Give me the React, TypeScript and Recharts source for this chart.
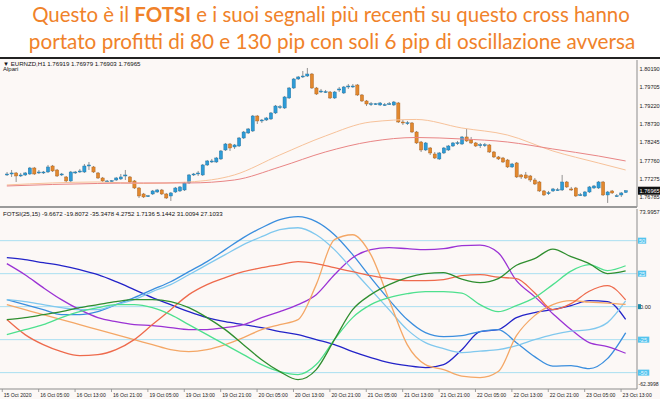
import { ComposedChart, Bar, Line, XAxis, YAxis, ReferenceLine } from "recharts";

const ORANGE = "#F0822A";
const BULL = "#2E9BD6";
const BEAR = "#E2882E";
const AXIS = "#8c8c8c";
const BG = "#FCF8F6";
const FONT = "Liberation Sans, Arial, sans-serif";

// EURNZD H1 candles, 15 Oct 22:00 -> 23 Oct 14:00
const open = [
  1.77382, 1.77408, 1.77435, 1.77355, 1.77382, 1.77408, 1.77567, 1.77435, 1.77435, 1.77461,
  1.7762, 1.77514, 1.77382, 1.77329, 1.77223, 1.77435, 1.77461, 1.77461, 1.7762, 1.77594,
  1.77435, 1.77302, 1.77223, 1.77223, 1.77249, 1.77276, 1.77355, 1.77329, 1.77223, 1.77037,
  1.76878, 1.76825, 1.76878, 1.76931, 1.76984, 1.76878, 1.76825, 1.76931, 1.76958, 1.76984,
  1.7717, 1.77382, 1.77408, 1.77382, 1.77647, 1.77726, 1.77726, 1.77806, 1.78044, 1.78203,
  1.78124, 1.7815, 1.78362, 1.78495, 1.78548, 1.78945, 1.78813, 1.78839, 1.78866, 1.79025,
  1.79184, 1.79157, 1.79422, 1.79687, 1.79926, 1.79979, 1.80005, 1.80058, 1.79687, 1.79581,
  1.79581, 1.79581, 1.79422, 1.79634, 1.79555, 1.79714, 1.79714, 1.79767, 1.79502, 1.79343,
  1.79263, 1.79263, 1.79237, 1.79237, 1.79263, 1.79237, 1.7929, 1.78786, 1.7876, 1.7876,
  1.78521, 1.78256, 1.78044, 1.78097, 1.77938, 1.77806, 1.77965, 1.78044, 1.7815, 1.7823,
  1.78203, 1.78389, 1.78309, 1.7823, 1.78177, 1.78177, 1.78177, 1.77991, 1.77859, 1.77832,
  1.77779, 1.77594, 1.777, 1.77382, 1.77382, 1.77355, 1.77249, 1.77196, 1.76958, 1.76905,
  1.76958, 1.76984, 1.76984, 1.77196, 1.77011, 1.77037, 1.76852, 1.76825, 1.76931, 1.77037,
  1.77037, 1.77196, 1.76852, 1.76958, 1.76825, 1.76852, 1.76919,
];
const high = [
  1.77461, 1.77514, 1.77461, 1.77435, 1.77461, 1.77594, 1.77594, 1.77514, 1.77488, 1.77647,
  1.77647, 1.77541, 1.77435, 1.77355, 1.77488, 1.77488, 1.77541, 1.77673, 1.77726, 1.7762,
  1.77461, 1.77329, 1.77249, 1.77249, 1.77329, 1.77408, 1.77514, 1.77355, 1.77249, 1.77064,
  1.76905, 1.76852, 1.76984, 1.77011, 1.77011, 1.76905, 1.76931, 1.77064, 1.7709, 1.77196,
  1.77408, 1.77435, 1.77488, 1.77673, 1.77779, 1.77806, 1.77859, 1.78044, 1.7823, 1.7823,
  1.78203, 1.78389, 1.78548, 1.78627, 1.78972, 1.78972, 1.78866, 1.78919, 1.79051, 1.79237,
  1.79237, 1.79475, 1.79714, 1.79952, 1.80005, 1.80138, 1.80217, 1.80085, 1.79714, 1.79661,
  1.79634, 1.79608, 1.79608, 1.79714, 1.7974, 1.79793, 1.79793, 1.79793, 1.79528, 1.79369,
  1.79316, 1.7929, 1.79316, 1.7929, 1.79316, 1.79343, 1.79316, 1.78839, 1.78813, 1.78786,
  1.78548, 1.78283, 1.78256, 1.78124, 1.77991, 1.77991, 1.78124, 1.78177, 1.78256, 1.78283,
  1.78415, 1.78601, 1.78389, 1.78256, 1.7823, 1.7823, 1.78203, 1.78018, 1.77885, 1.77859,
  1.77806, 1.777, 1.77726, 1.77408, 1.77461, 1.77382, 1.77302, 1.77223, 1.76984, 1.76958,
  1.77037, 1.77037, 1.77382, 1.77223, 1.77064, 1.77064, 1.76905, 1.76958, 1.7709, 1.77117,
  1.77223, 1.77223, 1.76958, 1.76984, 1.76878, 1.76931, 1.76979,
];
const low = [
  1.77355, 1.77329, 1.77196, 1.77329, 1.77355, 1.77382, 1.77382, 1.77408, 1.77408, 1.77435,
  1.77461, 1.77329, 1.77355, 1.7717, 1.77196, 1.77408, 1.77435, 1.77435, 1.77514, 1.77435,
  1.77276, 1.77196, 1.77196, 1.77196, 1.77223, 1.77249, 1.77249, 1.7717, 1.77011, 1.76772,
  1.76772, 1.76799, 1.76852, 1.76905, 1.76852, 1.76746, 1.76693, 1.76905, 1.76931, 1.76958,
  1.77143, 1.77355, 1.77355, 1.77355, 1.7762, 1.777, 1.777, 1.77779, 1.78018, 1.78018,
  1.78071, 1.78124, 1.78336, 1.78468, 1.78521, 1.78733, 1.7876, 1.78813, 1.78839, 1.78998,
  1.79131, 1.79131, 1.79396, 1.79661, 1.79899, 1.79952, 1.79979, 1.79661, 1.79502, 1.79555,
  1.79555, 1.79396, 1.79396, 1.79581, 1.79528, 1.79661, 1.79687, 1.79475, 1.79316, 1.7921,
  1.7921, 1.79237, 1.7921, 1.7921, 1.79237, 1.7921, 1.7876, 1.78707, 1.78707, 1.78495,
  1.78203, 1.77991, 1.78018, 1.77912, 1.77806, 1.77779, 1.77938, 1.78018, 1.78124, 1.78177,
  1.78177, 1.78256, 1.78203, 1.78124, 1.78097, 1.78124, 1.77965, 1.77832, 1.77779, 1.777,
  1.77567, 1.77567, 1.77302, 1.77276, 1.77276, 1.77196, 1.77117, 1.76931, 1.76825, 1.76852,
  1.76931, 1.76958, 1.76958, 1.77037, 1.76958, 1.76799, 1.76825, 1.76799, 1.76905, 1.77011,
  1.77011, 1.76825, 1.7664, 1.76878, 1.76799, 1.76799, 1.76903,
];
const close = [
  1.77408, 1.77435, 1.77355, 1.77382, 1.77435, 1.77567, 1.77408, 1.77461, 1.77461, 1.77594,
  1.77488, 1.77355, 1.77408, 1.77223, 1.77461, 1.77461, 1.77488, 1.7762, 1.77647, 1.77461,
  1.77302, 1.77223, 1.77223, 1.7723, 1.77302, 1.77329, 1.77382, 1.77196, 1.77037, 1.76825,
  1.76799, 1.7683, 1.76958, 1.76984, 1.76878, 1.76772, 1.76905, 1.77037, 1.77064, 1.7717,
  1.77382, 1.77408, 1.77435, 1.77647, 1.77753, 1.77753, 1.77832, 1.78018, 1.78203, 1.78097,
  1.78177, 1.78362, 1.78521, 1.78601, 1.78945, 1.78813, 1.78839, 1.78892, 1.79025, 1.7921,
  1.7919, 1.79449, 1.79687, 1.79926, 1.79979, 1.80005, 1.80058, 1.79687, 1.79528, 1.79608,
  1.7959, 1.79422, 1.79581, 1.79661, 1.79714, 1.7974, 1.7974, 1.79502, 1.79343, 1.79263,
  1.7927, 1.7927, 1.7929, 1.79245, 1.7927, 1.79316, 1.78786, 1.7876, 1.78765, 1.78521,
  1.7823, 1.78044, 1.7823, 1.77965, 1.77832, 1.77965, 1.78097, 1.7815, 1.7823, 1.78235,
  1.78389, 1.78283, 1.7823, 1.7815, 1.78182, 1.78182, 1.77991, 1.77859, 1.77806, 1.77726,
  1.77594, 1.77673, 1.77329, 1.77329, 1.77302, 1.77249, 1.77143, 1.76958, 1.76852, 1.7691,
  1.77011, 1.7699, 1.77196, 1.77064, 1.76984, 1.76825, 1.76857, 1.76931, 1.77064, 1.7709,
  1.77196, 1.76852, 1.76931, 1.76905, 1.7683, 1.76905, 1.76965,
];

// moving averages on the price panel, read at these bar indices
const maIdx = [0, 10, 20, 30, 40, 50, 60, 70, 80, 90, 100, 110, 120, 130, 136];
const maFast = [1.77117, 1.7717, 1.77196, 1.77157, 1.77196, 1.77382, 1.77912, 1.78415, 1.78786, 1.78853, 1.78627, 1.78442, 1.78018, 1.777, 1.77514];
const maSlow = [1.7709, 1.7713, 1.77157, 1.7717, 1.7717, 1.77249, 1.77594, 1.77991, 1.78269, 1.78375, 1.78336, 1.78256, 1.78071, 1.77885, 1.77753];

const priceTicks = [1.8019, 1.79705, 1.7922, 1.7873, 1.78245, 1.7776, 1.77275, 1.76785];

// FOTSI(25,15), read every 4 bars
const fotsiIdx = [0, 4, 8, 12, 16, 20, 24, 28, 32, 36, 40, 44, 48, 52, 56, 60, 64, 68, 72, 76, 80, 84, 88, 92, 96, 100, 104, 108, 112, 116, 120, 124, 128, 132, 136];
const eur = [37.1, 35.6, 33.3, 31.1, 28.0, 24.2, 18.9, 12.9, 6.8, 1.5, -3.8, -8.3, -11.4, -13.6, -15.9, -18.9, -21.2, -25, -28.8, -34.1, -38.6, -42.4, -44.7, -46.2, -43.9, -32.6, -18.9, -17.4, -8.3, -4.5, -2.3, 0.8, 4.5, 3.8, -9.7];
const usd = [5.3, 1.5, -2.3, -6.1, -6.1, -3.8, 1.5, 6.8, 12.9, 18.9, 26.5, 34.1, 43.2, 52.3, 59.8, 65.9, 68.2, 64.4, 54.5, 39.4, 22.0, 5.3, -9.8, -19.7, -22.7, -22.0, -18.9, -17.4, -27.3, -37.9, -45.1, -44.7, -47.0, -39.4, -19.8];
const gbp = [32.6, 24.2, 14.4, 5.3, -2.3, -8.3, -11.4, -13.6, -14.4, -15.9, -17.4, -17.4, -15.9, -13.6, -8.3, -3.8, 1.5, 9.1, 24.2, 37.1, 43.2, 44.7, 43.9, 43.2, 43.9, 46.2, 46.6, 40.9, 19.7, 7.6, -5.3, -17.4, -27.3, -30.3, -35.3];
const chf = [5.3, 3.8, 1.5, -0.8, -2.3, -2.3, 1.5, 5.3, 11.4, 16.7, 24.2, 31.8, 39.4, 47.0, 53.0, 58.3, 59.8, 54.5, 43.2, 28.0, 12.9, -2.3, -17.4, -27.3, -31.8, -34.8, -33.7, -32.6, -29.5, -25.0, -21.2, -18.6, -17.4, -12.1, 4.3];
const jpy = [1.5, -2.3, -6.1, -9.8, -13.6, -17.4, -21.2, -25, -28.8, -32.6, -34.1, -32.6, -28.8, -23.5, -17.4, -13.6, -9.8, 16.7, 50.8, 54.5, 39.4, 5.3, -28.8, -43.9, -47.7, -52.7, -53.8, -49.2, -22.0, -6.8, 1.5, 4.5, 3.4, 2.7, 1.7];
const aud = [-9.8, -21.2, -28.8, -34.1, -37.1, -36.4, -32.6, -25, -13.6, -2.3, 9.1, 16.7, 22.0, 26.5, 29.5, 31.8, 34.1, 32.6, 29.5, 26.5, 23.5, 21.2, 19.7, 19.7, 20.5, 23.5, 24.2, 22.3, 21.2, 10.6, -2.3, 2.3, 11.7, 15.9, 5.1];
const cad = [-21.2, -17.4, -13.6, -8.3, -3.8, -0.8, 1.5, 1.5, -0.8, -6.1, -13.6, -21.2, -28.8, -36.4, -43.9, -49.2, -51.5, -43.9, -25, -8.3, 1.5, 6.8, 9.8, 11.4, 11.4, 10.2, 1.5, -3.8, 0.8, 6.8, 16.7, 26.9, 31.8, 27.3, 31.0];
const nzd = [-9.8, -8.3, -6.1, -3.8, -0.8, 1.5, 3.8, 5.3, 5.3, 3.8, -0.8, -8.3, -17.4, -28.8, -40.2, -49.2, -55.3, -47.7, -25, -2.3, 9.1, 16.7, 22.0, 25.0, 25.8, 20.8, 18.2, 21.2, 31.4, 36.4, 43.6, 37.9, 32.6, 25.0, 27.1];

const levels = [50, 25, 0, -25, -50];
const FOTSI_MAX = 73.9957;
const FOTSI_MIN = -62.3998;

const timeTicks = [-1, 7, 15, 23, 31, 39, 47, 55, 63, 71, 79, 87, 95, 103, 111, 119, 127, 135];
const timeLabels = [
  "15 Oct 2020", "16 Oct 05:00", "16 Oct 13:00", "16 Oct 21:00", "19 Oct 05:00", "19 Oct 13:00",
  "19 Oct 21:00", "20 Oct 05:00", "20 Oct 13:00", "20 Oct 21:00", "21 Oct 05:00", "21 Oct 13:00",
  "21 Oct 21:00", "22 Oct 05:00", "22 Oct 13:00", "22 Oct 21:00", "23 Oct 05:00", "23 Oct 13:00",
];

const series = [
  { key: "eur", values: eur, color: "#2323C8" },
  { key: "usd", values: usd, color: "#3A8EDE" },
  { key: "gbp", values: gbp, color: "#9B32D4" },
  { key: "chf", values: chf, color: "#80C8EE" },
  { key: "jpy", values: jpy, color: "#F4A766" },
  { key: "aud", values: aud, color: "#EE6A4C" },
  { key: "cad", values: cad, color: "#4EE08E" },
  { key: "nzd", values: nzd, color: "#2F8E2F" },
];

const candles = open.map((o, i) => ({ i, open: o, high: high[i], low: low[i], close: close[i] }));
const fastRows = maIdx.map((i, k) => ({ i, v: maFast[k] }));
const slowRows = maIdx.map((i, k) => ({ i, v: maSlow[k] }));
const fotsiRows = fotsiIdx.map((i, k) => {
  const row: Record<string, number> = { i };
  series.forEach((s) => (row[s.key] = s.values[k]));
  return row;
});

const lastClose = close[close.length - 1];
const PRICE_MIN = 1.76533;
const PRICE_MAX = 1.80429;
const X_DOMAIN = [-1.5, 138.5];

function Candle(props: any) {
  const { x, y, width, height, payload } = props;
  if (x == null || !payload) return null;
  const top = Math.min(y, y + height);
  const h = Math.abs(height);
  const range = payload.high - payload.low || 1;
  const py = (v: number) => top + ((payload.high - v) / range) * h;
  const cx = x + width / 2;
  const up = payload.close >= payload.open;
  const bt = py(Math.max(payload.open, payload.close));
  const bb = py(Math.min(payload.open, payload.close));
  return (
    <g>
      <line x1={cx} x2={cx} y1={top} y2={top + h} stroke="#777" strokeWidth={0.8} />
      <rect
        x={cx - 1.6}
        y={bt}
        width={3.2}
        height={Math.max(bb - bt, 0.9)}
        fill={up ? BULL : BEAR}
        stroke={up ? "#1f6f9c" : "#a55e1c"}
        strokeWidth={0.4}
      />
    </g>
  );
}

function PriceTick(props: any) {
  const { y, payload } = props;
  if (payload.value === lastClose) {
    return (
      <g>
        <rect x={638} y={y - 4} width={22} height={8} fill="#111" />
        <text x={639.5} y={y + 2} fontSize={5.6} fontFamily={FONT} fill="#fff">
          {payload.value.toFixed(5)}
        </text>
      </g>
    );
  }
  return (
    <text x={639.5} y={y + 2} fontSize={5.6} fontFamily={FONT} fill="#222">
      {payload.value.toFixed(5)}
    </text>
  );
}

function FotsiTick(props: any) {
  const { y, payload } = props;
  const v = payload.value;
  if (v === FOTSI_MAX) {
    return (
      <text x={639.5} y={y + 5} fontSize={5.6} fontFamily={FONT} fill="#222">
        {v.toFixed(4)}
      </text>
    );
  }
  if (v === FOTSI_MIN) {
    return (
      <text x={638.5} y={y - 3} fontSize={5.1} fontFamily={FONT} fill="#222">
        {v.toFixed(4)}
      </text>
    );
  }
  if (v === 0) {
    return (
      <g>
        <text x={640} y={y + 2} fontSize={5.6} fontFamily={FONT} fill="#222">
          0.00
        </text>
        <rect x={638} y={y - 2.5} width={3} height={5} fill="#1c8aa8" />
      </g>
    );
  }
  const label = String(v);
  const w = label.length * 3.1 + 2;
  return (
    <g>
      <rect x={638} y={y - 3} width={w} height={6} fill="#54C4EE" />
      <text x={639} y={y + 2} fontSize={5.6} fontFamily={FONT} fill="#EAF8FF">
        {label}
      </text>
    </g>
  );
}

function TimeTick(props: any) {
  const { x, payload } = props;
  const k = timeTicks.indexOf(payload.value);
  return (
    <g>
      <line x1={x} x2={x} y1={181} y2={184} stroke={AXIS} strokeWidth={0.8} />
      <text x={x + 1.5} y={189} fontSize={5.1} fontFamily={FONT} fill="#222">
        {timeLabels[k]}
      </text>
    </g>
  );
}

export default function App() {
  return (
    <div style={{ position: "absolute", left: 0, top: 0, width: 660, height: 399, background: "#fff", overflow: "hidden" }}>
      <svg width={660} height={58} style={{ position: "absolute", left: 0, top: 0 }}>
        <text x={331} y={22} textAnchor="middle" fontFamily="Lato" fontSize={20.4} fill={ORANGE}>
          Questo è il <tspan fontWeight="bold">FOTSI</tspan> e i suoi segnali più recenti su questo cross hanno
        </text>
        <text x={332} y={49} textAnchor="middle" fontFamily="Lato" fontSize={20.7} fill={ORANGE}>
          portato profitti di 80 e 130 pip con soli 6 pip di oscillazione avversa
        </text>
      </svg>
      <div style={{ position: "absolute", left: 0, top: 58, width: 660, height: 341, background: BG }} />
      <div style={{ position: "absolute", left: 0, top: 57, width: 660, height: 2, background: "#222" }} />

      <div style={{ position: "absolute", left: 0, top: 58 }}>
        <ComposedChart width={660} height={150} data={candles} margin={{ top: 2, right: 0, bottom: 1, left: 0 }}>
          <XAxis type="number" dataKey="i" domain={X_DOMAIN} hide allowDataOverflow />
          <YAxis
            orientation="right"
            width={23}
            domain={[PRICE_MIN, PRICE_MAX]}
            ticks={[...priceTicks, lastClose]}
            interval={0}
            tick={<PriceTick />}
            tickLine={false}
            axisLine={{ stroke: AXIS }}
            allowDataOverflow
          />
          <Line data={fastRows} dataKey="v" stroke="#F7C29A" strokeWidth={1} dot={false} type="monotone" isAnimationActive={false} />
          <Line data={slowRows} dataKey="v" stroke="#E98585" strokeWidth={1} dot={false} type="monotone" isAnimationActive={false} />
          <Bar dataKey={(d: any) => [d.low, d.high]} barSize={3} shape={<Candle />} isAnimationActive={false} />
        </ComposedChart>
      </div>

      <div style={{ position: "absolute", left: 0, top: 206, width: 637, height: 2, background: "#9a9a9a" }} />

      <div style={{ position: "absolute", left: 0, top: 208 }}>
        <ComposedChart width={660} height={191} data={fotsiRows} margin={{ top: 1, right: 0, bottom: 0, left: 0 }}>
          <XAxis
            type="number"
            dataKey="i"
            domain={X_DOMAIN}
            ticks={timeTicks}
            interval={0}
            tick={<TimeTick />}
            tickLine={false}
            height={10}
            axisLine={{ stroke: AXIS }}
            allowDataOverflow
          />
          <YAxis
            orientation="right"
            width={23}
            domain={[FOTSI_MIN, FOTSI_MAX]}
            ticks={[FOTSI_MAX, ...levels, FOTSI_MIN]}
            interval={0}
            tick={<FotsiTick />}
            tickLine={false}
            axisLine={{ stroke: AXIS }}
            allowDataOverflow
          />
          {levels.map((l) => (
            <ReferenceLine key={l} y={l} stroke="#A9DFF1" strokeWidth={1} />
          ))}
          {series.map((s) => (
            <Line
              key={s.key}
              dataKey={s.key}
              stroke={s.color}
              strokeWidth={1.3}
              dot={false}
              type="monotone"
              isAnimationActive={false}
            />
          ))}
        </ComposedChart>
      </div>

      <svg width={660} height={399} style={{ position: "absolute", left: 0, top: 0, pointerEvents: "none" }}>
        <text x={3} y={65.5} fontSize={6.1} fontFamily={FONT} fill="#111">
          ▼ EURNZD,H1  1.76919 1.76979 1.76903 1.76965
        </text>
        <text x={3} y={70.5} fontSize={6} fontFamily={FONT} fill="#111">
          Alpari
        </text>
        <text x={3} y={215.5} fontSize={6.1} fontFamily={FONT} fill="#111">
          FOTSI(25,15) -9.6672 -19.8072 -35.3478 4.2752 1.7136 5.1442 31.0094 27.1033
        </text>
      </svg>
    </div>
  );
}
